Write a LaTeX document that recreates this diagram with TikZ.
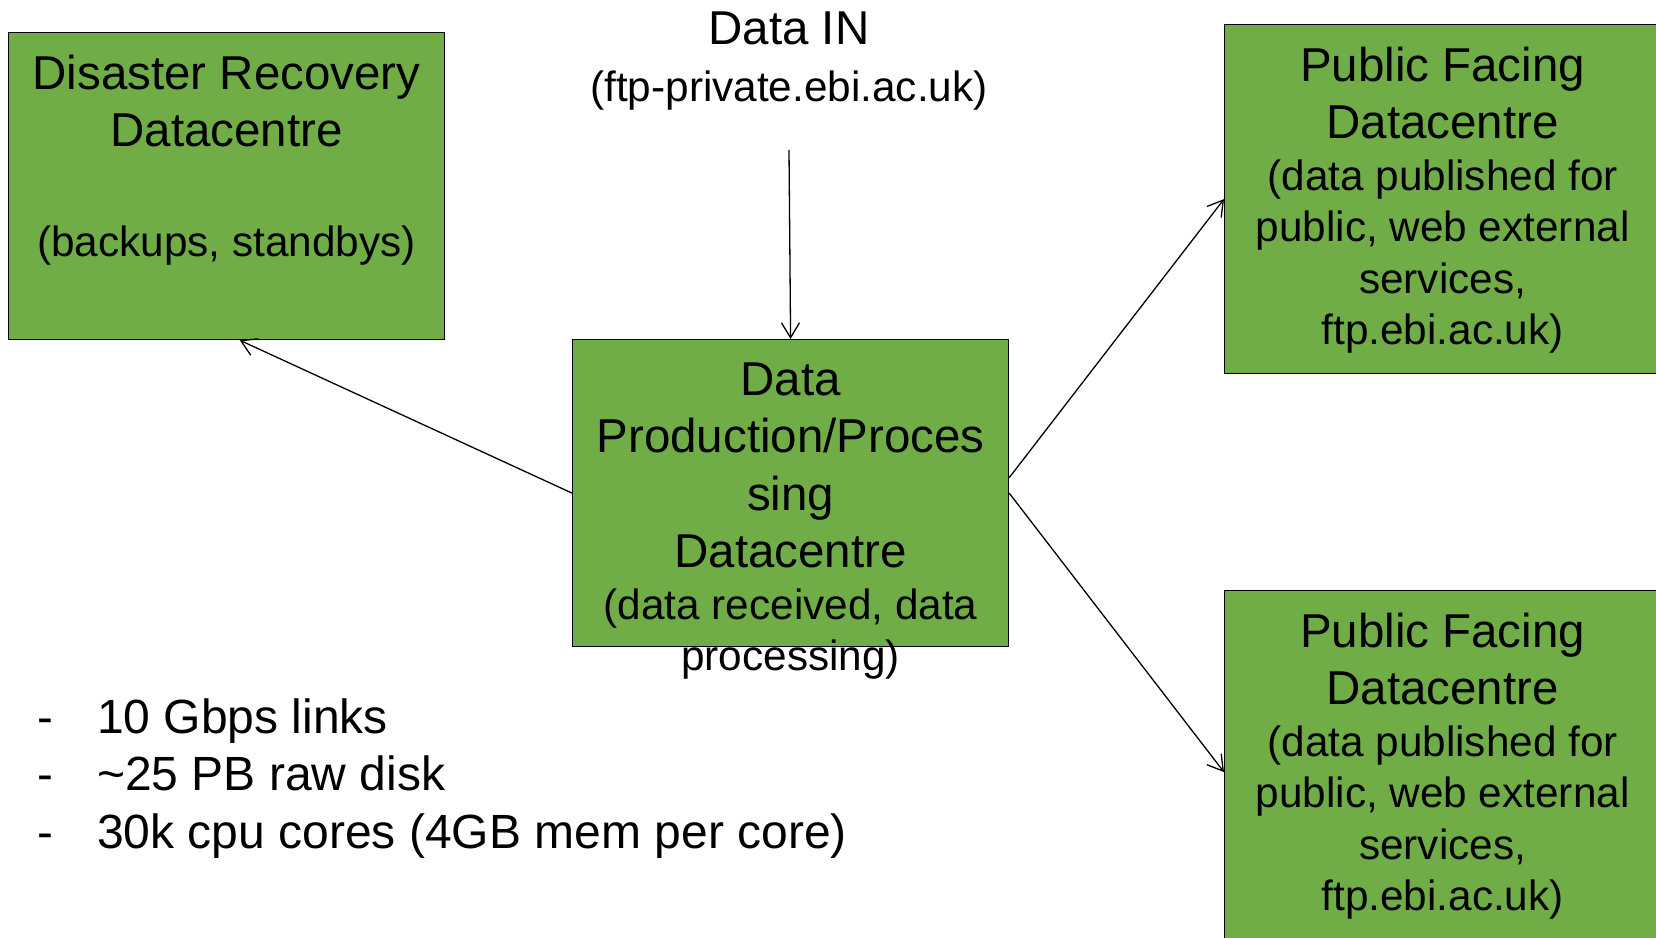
\documentclass[tikz,border=0pt]{standalone}
\usepackage{fontspec}
\setmainfont{Liberation Sans}
\usetikzlibrary{arrows.meta,calc}
\definecolor{dcgreen}{HTML}{70AD47}
\newcommand{\titlefont}{\fontsize{47.5}{57.5}\selectfont}
\newcommand{\subfont}{\fontsize{42.3}{51.5}\selectfont}

\begin{document}
\begin{tikzpicture}[x=1pt,y=1pt,
    dcbox/.style={draw, line width=1.2pt, fill=dcgreen, minimum width=436pt, inner sep=0pt, anchor=north west},
    dctext/.style={text width=436pt, align=flush center, anchor=base, inner sep=0pt, font=\titlefont},
    link/.style={line width=1.3pt, -{Straight Barb[length=15pt,width=18pt]}}]
    \useasboundingbox (0,0) rectangle (1656,-937);
    % Datacentre boxes
    \node[dcbox, minimum height=307pt] (dr) at (8,-32) {};
    \node[dcbox, minimum height=307pt] (prod) at (572,-339) {};
    \node[dcbox, minimum height=349pt] (pub1) at (1224,-24) {};
    \node[dcbox, minimum height=349pt] (pub2) at (1224,-590) {};
    % Box texts
    \node[dctext] (drtext) at ([yshift=-57pt]dr.north) {Disaster Recovery\\ Datacentre\par\vspace{58pt}\subfont (backups, standbys)\par};
    \node[dctext] (prodtext) at ([yshift=-56pt]prod.north) {Data\\ Production/Proces\\ sing\\ Datacentre\par\subfont (data received, data\\ processing)\par};
    \foreach \b in {pub1,pub2} {
        \node[dctext] (\b text) at ([yshift=-57pt]\b.north) {Public Facing\\ Datacentre\par\subfont (data published for\\ public, web external\\ services,\\ ftp.ebi.ac.uk)\par};
    }
    % Incoming data
    \node[dctext] (datain) at (789,-44) {Data IN\par\subfont (ftp-private.ebi.ac.uk)};
    \coordinate (feed) at (789,-150);
    % Arrows
    \draw[link] (feed) -- (prod.north);
    \draw[link] (prod.west) -- ($(dr.south west)!0.53!(dr.south east)$);
    \draw[link] ($(prod.north east)!0.45!(prod.south east)$) -- (pub1.west);
    \draw[link] (prod.east) -- ($(pub2.north west)!0.52!(pub2.south west)$);
    % Specs
    \foreach \txt [count=\i] in {10 Gbps links, \textasciitilde25 PB raw disk, 30k cpu cores (4GB mem per core)} {
        \node[anchor=base west, inner sep=0pt, font=\titlefont] (dash\i) at (37,{-733-57.5*(\i-1)}) {-};
        \node[anchor=base west, inner sep=0pt, font=\fontsize{48}{57.5}\selectfont] (spec\i) at (97,{-733-57.5*(\i-1)}) {\txt};
    }
\end{tikzpicture}
\end{document}
